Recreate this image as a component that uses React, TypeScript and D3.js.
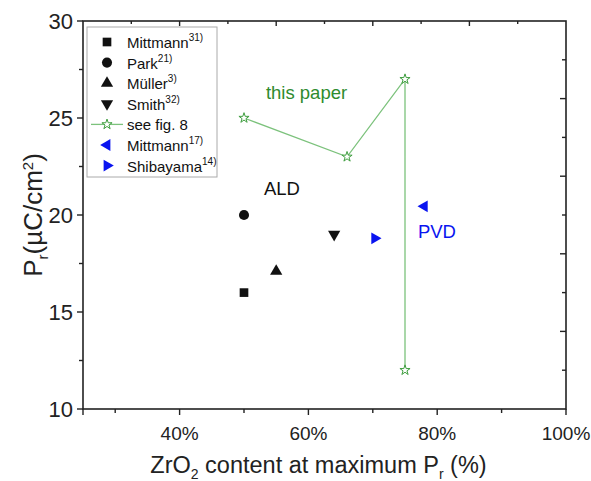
import { useEffect, useRef } from 'react';
import * as d3 from 'd3';

// points (ZrO2 %, Pr µC/cm²)
const mittmann31 = [{ x: 50, y: 16 }];
const park21 = [{ x: 50, y: 20 }];
const muller3 = [{ x: 55, y: 17.1 }];
const smith32 = [{ x: 64, y: 19 }];
const thisPaper = [
  { x: 50, y: 25 },
  { x: 66, y: 23 },
  { x: 75, y: 27 },
  { x: 75, y: 12 },
];
const mittmann17 = [{ x: 78, y: 20.45 }];
const shibayama14 = [{ x: 70.3, y: 18.8 }];

const xTicks = [40, 60, 80, 100];
const xMinor = [30, 50, 70, 90];
const yTicks = [10, 15, 20, 25, 30];
const yMinor = [12.5, 17.5, 22.5, 27.5];

const BLUE = '#0a14f0';
const GREEN_LINE = '#7cc27c';
const GREEN_STAR = '#3f9e3f';
const GREEN_TEXT = '#2e8b2e';

const App = () => {
  const svgRef = useRef(null);

  useEffect(() => {
    const width = 591;
    const height = 481;
    const margin = { top: 21, right: 25, bottom: 72, left: 83 };
    const innerW = width - margin.left - margin.right;
    const innerH = height - margin.top - margin.bottom;

    const svg = d3.select(svgRef.current);
    svg.selectAll('*').remove();
    svg.attr('width', width).attr('height', height);

    const font = 'Liberation Sans, Arial, sans-serif';

    const x = d3.scaleLinear().domain([25, 100]).range([0, innerW]);
    const y = d3.scaleLinear().domain([10, 30]).range([innerH, 0]);
    // top / right axes carry their own unlabeled scale
    const xTop = d3.scaleLinear().domain([0, 1]).range([0, innerW]);
    const yRight = d3.scaleLinear().domain([0, 1]).range([innerH, 0]);

    const g = svg.append('g')
      .attr('transform', `translate(${margin.left},${margin.top})`);

    // frame
    g.append('rect')
      .attr('width', innerW)
      .attr('height', innerH)
      .attr('fill', 'none')
      .attr('stroke', '#222')
      .attr('stroke-width', 1.6);

    const tickStroke = (sel) => sel.attr('stroke', '#222').attr('stroke-width', 1.4);

    // bottom ticks (outward)
    g.selectAll('line.xmaj').data([...xTicks, 25]).enter().append('line')
      .attr('x1', d => x(d)).attr('x2', d => x(d))
      .attr('y1', innerH).attr('y2', innerH + 6).call(tickStroke);
    g.selectAll('line.xmin').data(xMinor).enter().append('line')
      .attr('x1', d => x(d)).attr('x2', d => x(d))
      .attr('y1', innerH).attr('y2', innerH + 4).call(tickStroke);
    g.selectAll('text.xlab').data(xTicks).enter().append('text')
      .attr('x', d => x(d))
      .attr('y', innerH + 31)
      .attr('text-anchor', 'middle')
      .attr('font-family', font)
      .attr('font-size', 19)
      .attr('fill', '#222')
      .text(d => `${d}%`);

    // left ticks (outward)
    g.selectAll('line.ymaj').data(yTicks).enter().append('line')
      .attr('x1', 0).attr('x2', -6)
      .attr('y1', d => y(d)).attr('y2', d => y(d)).call(tickStroke);
    g.selectAll('line.ymin').data(yMinor).enter().append('line')
      .attr('x1', 0).attr('x2', -4)
      .attr('y1', d => y(d)).attr('y2', d => y(d)).call(tickStroke);
    g.selectAll('text.ylab').data(yTicks).enter().append('text')
      .attr('x', -10)
      .attr('y', d => y(d) + 8)
      .attr('text-anchor', 'end')
      .attr('font-family', font)
      .attr('font-size', 22)
      .attr('fill', '#222')
      .text(d => d);

    // top & right ticks (inward)
    const steps = d3.range(1, 10).map(i => i / 10);
    g.selectAll('line.top').data(steps).enter().append('line')
      .attr('x1', d => xTop(d)).attr('x2', d => xTop(d))
      .attr('y1', 0).attr('y2', (d, i) => (i % 2 ? 5 : 3)).call(tickStroke);
    g.selectAll('line.right').data(steps).enter().append('line')
      .attr('x1', innerW).attr('x2', (d, i) => innerW - (i % 2 ? 6 : 4))
      .attr('y1', d => yRight(d)).attr('y2', d => yRight(d)).call(tickStroke);

    // axis titles
    const xt = svg.append('text')
      .attr('x', margin.left + innerW / 2 - 6)
      .attr('y', 473)
      .attr('text-anchor', 'middle')
      .attr('font-family', font)
      .attr('font-size', 23.5)
      .attr('fill', '#222');
    xt.append('tspan').text('ZrO');
    xt.append('tspan').attr('font-size', 14).attr('dy', 6).text('2');
    xt.append('tspan').attr('dy', -6).text(' content at maximum P');
    xt.append('tspan').attr('font-size', 14).attr('dy', 6).text('r');
    xt.append('tspan').attr('dy', -6).text(' (%)');

    const yt = svg.append('text')
      .attr('transform', `translate(42,${margin.top + innerH / 2}) rotate(-90)`)
      .attr('text-anchor', 'middle')
      .attr('font-family', font)
      .attr('font-size', 26)
      .attr('fill', '#222');
    yt.append('tspan').text('P');
    yt.append('tspan').attr('font-size', 15).attr('dy', 6).text('r');
    yt.append('tspan').attr('dy', -6).text('(µC/cm');
    yt.append('tspan').attr('font-size', 15).attr('dy', -9).text('2');
    yt.append('tspan').attr('dy', 9).text(')');

    // series
    const line = d3.line().x(d => x(d.x)).y(d => y(d.y));
    g.append('path')
      .datum(thisPaper)
      .attr('d', line)
      .attr('fill', 'none')
      .attr('stroke', GREEN_LINE)
      .attr('stroke-width', 1.3);

    const series = [
      { name: 'Mittmann', sup: '31)', data: mittmann31, type: d3.symbolSquare, size: 75, rot: 0, color: '#111', fill: true },
      { name: 'Park', sup: '21)', data: park21, type: d3.symbolCircle, size: 80, rot: 0, color: '#111', fill: true },
      { name: 'Müller', sup: '3)', data: muller3, type: d3.symbolTriangle, size: 65, rot: 0, color: '#111', fill: true },
      { name: 'Smith', sup: '32)', data: smith32, type: d3.symbolTriangle, size: 65, rot: 180, color: '#111', fill: true },
      { name: 'see fig. 8', sup: '', data: thisPaper, type: d3.symbolStar, size: 32, rot: 0, color: GREEN_STAR, fill: false },
      { name: 'Mittmann', sup: '17)', data: mittmann17, type: d3.symbolTriangle, size: 60, rot: -90, color: BLUE, fill: true },
      { name: 'Shibayama', sup: '14)', data: shibayama14, type: d3.symbolTriangle, size: 60, rot: 90, color: BLUE, fill: true },
    ];

    series.forEach(s => {
      const sym = d3.symbol().type(s.type).size(s.size);
      g.selectAll(null).data(s.data).enter().append('path')
        .attr('d', sym)
        .attr('transform', d => `translate(${x(d.x)},${y(d.y)}) rotate(${s.rot})`)
        .attr('fill', s.fill ? s.color : '#fff')
        .attr('stroke', s.color)
        .attr('stroke-width', s.fill ? 0 : 1);
    });

    // annotations
    const note = (txt, xv, yv, color, size) => g.append('text')
      .attr('x', x(xv)).attr('y', y(yv))
      .attr('font-family', font)
      .attr('font-size', size)
      .attr('fill', color)
      .text(txt);
    note('this paper', 53.4, 26.0, GREEN_TEXT, 18.5);
    note('ALD', 53.1, 21.05, '#111', 18.5);
    note('PVD', 77.0, 18.8, BLUE, 18.5);

    // legend
    const lg = svg.append('g').attr('transform', 'translate(87,27)');
    lg.append('rect')
      .attr('width', 130)
      .attr('height', 150)
      .attr('fill', '#fff')
      .attr('stroke', '#aaa')
      .attr('stroke-width', 1);
    series.forEach((s, i) => {
      const row = lg.append('g').attr('transform', `translate(0,${15 + i * 20.6})`);
      if (s.name === 'see fig. 8') {
        row.append('line')
          .attr('x1', 4).attr('x2', 36)
          .attr('stroke', GREEN_LINE).attr('stroke-width', 1.3);
      }
      row.append('path')
        .attr('d', d3.symbol().type(s.type).size(s.size)())
        .attr('transform', `translate(20,0) rotate(${s.rot})`)
        .attr('fill', s.fill ? s.color : '#fff')
        .attr('stroke', s.color)
        .attr('stroke-width', s.fill ? 0 : 1);
      const t = row.append('text')
        .attr('x', 40)
        .attr('y', 6)
        .attr('font-family', font)
        .attr('font-size', 15)
        .attr('fill', '#111');
      t.append('tspan').text(s.name);
      if (s.sup) t.append('tspan').attr('font-size', 10).attr('dy', -7).text(s.sup);
    });
  }, []);

  return (
    <div style={{ position: 'absolute', left: 0, top: 0 }}>
      <svg ref={svgRef} style={{ display: 'block' }} />
    </div>
  );
};

export default App;
